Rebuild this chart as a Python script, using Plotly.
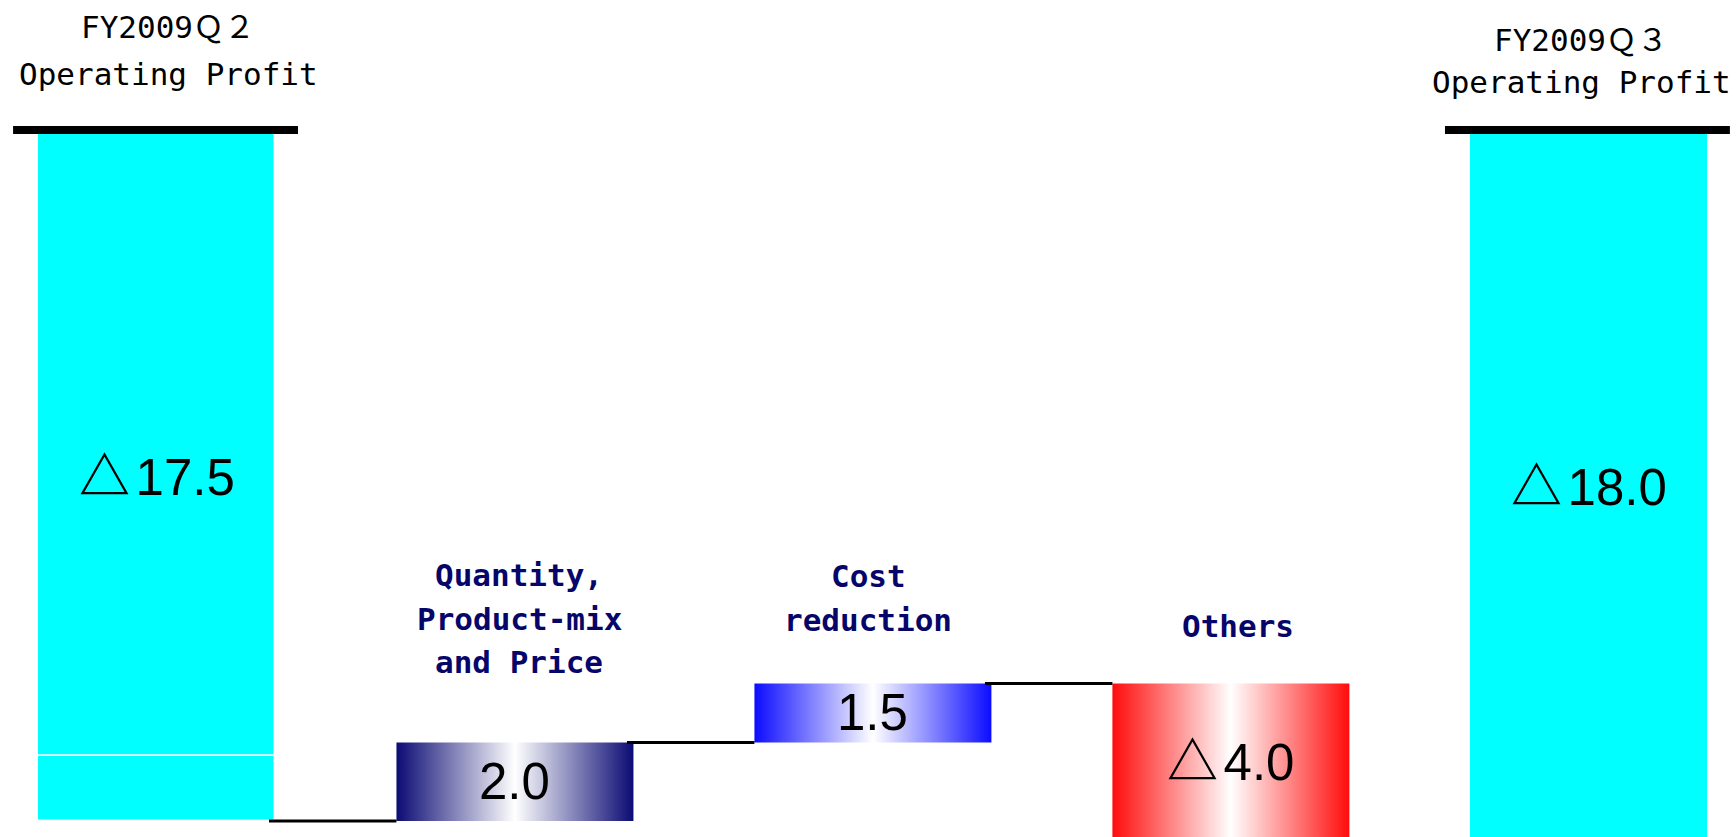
import plotly.graph_objects as go

# Operating-profit bridge, FY2009 Q2 -> Q3 (100 million yen; negative = loss)
categories = [
    "FY2009Ｑ２<br>Operating Profit",
    "Quantity,<br>Product-mix<br>and Price",
    "Cost<br>reduction",
    "Others",
    "FY2009Ｑ３<br>Operating Profit",
]
q2_profit = -17.5
q2_segments = [-15.85, -1.65]          # the Q2 bar is built from two stacked parts
changes = [2.0, 1.5, -4.0]             # quantity/mix/price, cost reduction, others
q3_profit = -18.0

# styling
W, H = 1736, 837
BAR_W = 0.662
TOTAL_COLOR = "#00ffff"
CHANGE_EDGE = ["#0b0b74", "#0c0cff", "#ff0c0c"]
LABEL_NAVY = "#06066a"
TITLE_FONT = "DejaVu Sans Mono, Noto Sans CJK JP, monospace"
VALUE_FONT = "Liberation Sans, Noto Sans CJK JP, sans-serif"
TRIANGLE = ('<b>△</b>'
            '<span style="font-size:20px"> </span>')


def fmt(v):
    return (TRIANGLE if v < 0 else "") + f"{abs(v):.1f}"


fig = go.Figure()

# Q2 total bar (two stacked segments separated by a hairline)
base = 0.0
for seg in q2_segments:
    fig.add_trace(go.Bar(
        x=[0], y=[seg], base=[base], width=BAR_W,
        marker=dict(color=TOTAL_COLOR, line=dict(color="white", width=1.5)),
        hoverinfo="skip",
    ))
    base += seg

# Q3 total bar
fig.add_trace(go.Bar(
    x=[4], y=[q3_profit], base=[0], width=BAR_W,
    marker=dict(color=TOTAL_COLOR, line=dict(width=0)),
    hoverinfo="skip",
))

# floating change bars with a horizontal edge-white-edge gradient
levels = [q2_profit]
for i, d in enumerate(changes):
    c = i + 1
    lo, hi = sorted([levels[-1], levels[-1] + d])
    x0, x1 = c - BAR_W / 2, c + BAR_W / 2
    edge = CHANGE_EDGE[i]
    fig.add_trace(go.Scatter(
        x=[x0, x1, x1, x0, x0], y=[lo, lo, hi, hi, lo],
        mode="lines", fill="toself", line=dict(width=0),
        fillgradient=dict(type="horizontal",
                          colorscale=[[0, edge], [0.5, "white"], [1, edge]]),
        hoverinfo="skip",
    ))
    levels.append(levels[-1] + d)

# connector lines between consecutive bars at the running level
for k in range(len(changes)):
    lvl = levels[k]
    fig.add_trace(go.Scatter(
        x=[k + BAR_W / 2 - 0.018, k + 1 - BAR_W / 2], y=[lvl, lvl],
        mode="lines", line=dict(color="black", width=3),
        hoverinfo="skip",
    ))

# thick black zero-lines above the two total bars
for c in (0, 4):
    fig.add_shape(type="rect", xref="x", yref="y",
                  x0=c - 0.402, x1=c + 0.394, y0=0, y1=0.2,
                  fillcolor="black", line=dict(width=0), layer="above")

# value labels centred in each bar
mids_x, mids_y, texts = [0], [q2_profit / 2], [fmt(q2_profit)]
for i, d in enumerate(changes):
    mids_x.append(i + 1)
    mids_y.append(levels[i] + d / 2)
    texts.append(fmt(d))
mids_x.append(4); mids_y.append(q3_profit / 2); texts.append(fmt(q3_profit))
for mx, my, t in zip(mids_x, mids_y, texts):
    fig.add_annotation(
        x=mx, y=my, xref="x", yref="y", text=t, showarrow=False,
        xanchor="center", yanchor="middle", yshift=0,
        font=dict(family=VALUE_FONT, size=51, color="black"),
    )

# category captions: one annotation per line, positioned in pixels
caption_layout = [
    # (centre x px, first-line centre y px, line pitch px, colour, bold)
    (168, 27, 47, "black", False),
    (519, 575, 43.5, LABEL_NAVY, True),
    (868, 576, 44, LABEL_NAVY, True),
    (1238, 626, 44, LABEL_NAVY, True),
    (1581, 40, 42, "black", False),
]
for name, (cx, cy, pitch, col, bold) in zip(categories, caption_layout):
    for j, line in enumerate(name.split("<br>")):
        fig.add_annotation(
            x=cx / W, y=1 - (cy + j * pitch) / H, xref="paper", yref="paper",
            text=f"<b>{line}</b>" if bold else line,
            showarrow=False, xanchor="center", yanchor="middle",
            font=dict(family=TITLE_FONT, size=31, color=col),
        )

fig.update_layout(
    width=W, height=H,
    margin=dict(l=0, r=0, t=0, b=0),
    paper_bgcolor="white", plot_bgcolor="white",
    showlegend=False, barmode="overlay", bargap=0,
    xaxis=dict(visible=False, range=[-0.4385, 4.411], fixedrange=True),
    yaxis=dict(visible=False, range=[-17.91, 3.413], fixedrange=True),
)

fig.write_html("out.html")
